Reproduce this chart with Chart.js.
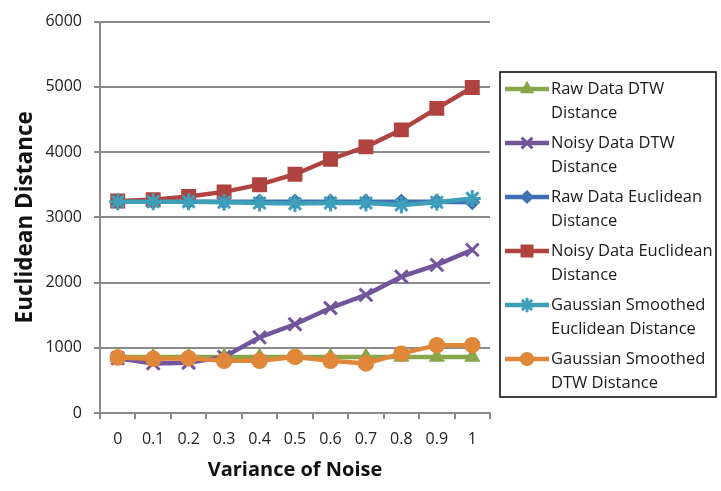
<!DOCTYPE html>
<html>
<head>
<meta charset="utf-8">
<script src="https://cdn.jsdelivr.net/npm/chart.js@4/dist/chart.umd.min.js"></script>
<style>
  html, body { margin: 0; padding: 0; background: #fff; }
  #wrap { width: 721px; height: 491px; position: relative; }
</style>
</head>
<body>
<div id="wrap"><canvas id="distances"></canvas></div>
<script>
const noiseLevels = ["0", "0.1", "0.2", "0.3", "0.4", "0.5", "0.6", "0.7", "0.8", "0.9", "1"];

const rawDtw = [860, 860, 860, 860, 860, 860, 860, 860, 860, 860, 860];
const noisyDtw = [840, 760, 770, 860, 1160, 1360, 1610, 1810, 2090, 2270, 2500];
const rawEuclid = [3240, 3240, 3240, 3240, 3240, 3240, 3240, 3240, 3240, 3240, 3230];
const noisyEuclid = [3250, 3270, 3320, 3390, 3500, 3660, 3890, 4080, 4340, 4670, 4990];
const smoothEuclid = [3240, 3240, 3240, 3230, 3220, 3210, 3220, 3220, 3190, 3230, 3290];
const smoothDtw = [850, 830, 840, 800, 800, 860, 800, 760, 910, 1040, 1040];

const yTicks = [0, 1000, 2000, 3000, 4000, 5000, 6000];

// legend text, already broken into lines
const legendLines = [
  ["Raw Data DTW", "Distance"],
  ["Noisy Data DTW", "Distance"],
  ["Raw Data Euclidean", "Distance"],
  ["Noisy Data Euclidean", "Distance"],
  ["Gaussian Smoothed", "Euclidean Distance"],
  ["Gaussian Smoothed", "DTW Distance"]
];

const FONT = "'Open Sans', 'DejaVu Sans', sans-serif";
const GRID = "#8a8a8a";

function series(label, data, color, style, radius, extra) {
  return Object.assign({
    label: label,
    data: data,
    borderColor: color,
    backgroundColor: color,
    borderWidth: 4.5,
    pointStyle: style,
    pointRadius: radius,
    pointBorderWidth: 1.5,
    pointHoverRadius: radius,
    tension: 0
  }, extra || {});
}

const datasets = [
  series("Raw Data DTW Distance", rawDtw, "#8aa64a", "triangle", 8),
  series("Noisy Data DTW Distance", noisyDtw, "#73559b", "crossRot", 9, { pointBorderWidth: 3 }),
  series("Raw Data Euclidean Distance", rawEuclid, "#3f6fb3", "rectRot", 7),
  series("Noisy Data Euclidean Distance", noisyEuclid, "#b0433f", "rect", 9.5),
  series("Gaussian Smoothed Euclidean Distance", smoothEuclid, "#3d9fb9", "star", 8.5, { pointBorderWidth: 3 }),
  series("Gaussian Smoothed DTW Distance", smoothDtw, "#e0873a", "circle", 7.5)
];
// later series sit on top
datasets.forEach((d, i) => { d.order = datasets.length - i; });

// boxed legend on the right with wrapped labels
const boxLegend = {
  id: "boxLegend",
  afterDraw(chart) {
    const ctx = chart.ctx;
    const left = 500, top = 72, w = 216, h = 325;
    ctx.save();
    ctx.strokeStyle = "#000";
    ctx.lineWidth = 1.5;
    ctx.strokeRect(left, top, w, h);
    ctx.textBaseline = "middle";
    chart.data.datasets.forEach((ds, i) => {
      const y = 89 + i * 54;
      ctx.strokeStyle = ds.borderColor;
      ctx.lineWidth = 4.5;
      ctx.beginPath();
      ctx.moveTo(505, y);
      ctx.lineTo(549, y);
      ctx.stroke();
      ctx.fillStyle = ds.backgroundColor;
      ctx.lineWidth = ds.pointBorderWidth;
      Chart.helpers.drawPoint(ctx, {
        pointStyle: ds.pointStyle,
        radius: ds.pointRadius * 0.85,
        rotation: 0,
        borderWidth: ds.pointBorderWidth
      }, 527, y);
      ctx.fillStyle = "#1a1a1a";
      ctx.font = "16.5px " + FONT;
      legendLines[i].forEach((line, j) => {
        ctx.fillText(line, 551, y + j * 24.5);
      });
    });
    ctx.restore();
  }
};

new Chart(document.getElementById("distances"), {
  type: "line",
  data: { labels: noiseLevels, datasets: datasets },
  options: {
    responsive: true,
    maintainAspectRatio: false,
    animation: false,
    layout: { padding: { top: 13, right: 231, left: 0, bottom: 0 } },
    plugins: {
      legend: { display: false },
      tooltip: { enabled: false }
    },
    scales: {
      x: {
        offset: true,
        afterFit(scale) { scale.height = 78; },
        grid: {
          display: true,
          offset: true,
          drawOnChartArea: false,
          drawTicks: true,
          tickLength: 6,
          color: GRID,
          lineWidth: 2
        },
        border: { color: GRID, width: 2 },
        ticks: {
          color: "#222",
          font: { family: FONT, size: 16 },
          padding: 11,
          maxRotation: 0
        },
        title: {
          display: true,
          text: "Variance of Noise",
          color: "#111",
          font: { family: FONT, size: 20, weight: "bold" },
          padding: { top: 0, bottom: 9 }
        }
      },
      y: {
        min: 0,
        max: 6000,
        afterFit(scale) { scale.width = 100; },
        afterBuildTicks(scale) { scale.ticks = yTicks.map(v => ({ value: v })); },
        grid: {
          color: GRID,
          lineWidth: 2,
          tickLength: 6
        },
        border: { color: GRID, width: 2 },
        ticks: {
          color: "#222",
          font: { family: FONT, size: 16 },
          padding: 12,
          callback: v => String(v)
        },
        title: {
          display: true,
          text: "Euclidean Distance",
          color: "#111",
          font: { family: FONT, size: 22.5, weight: "bold" },
          padding: { top: 12, bottom: 0 }
        }
      }
    }
  },
  plugins: [boxLegend]
});
</script>
</body>
</html>
